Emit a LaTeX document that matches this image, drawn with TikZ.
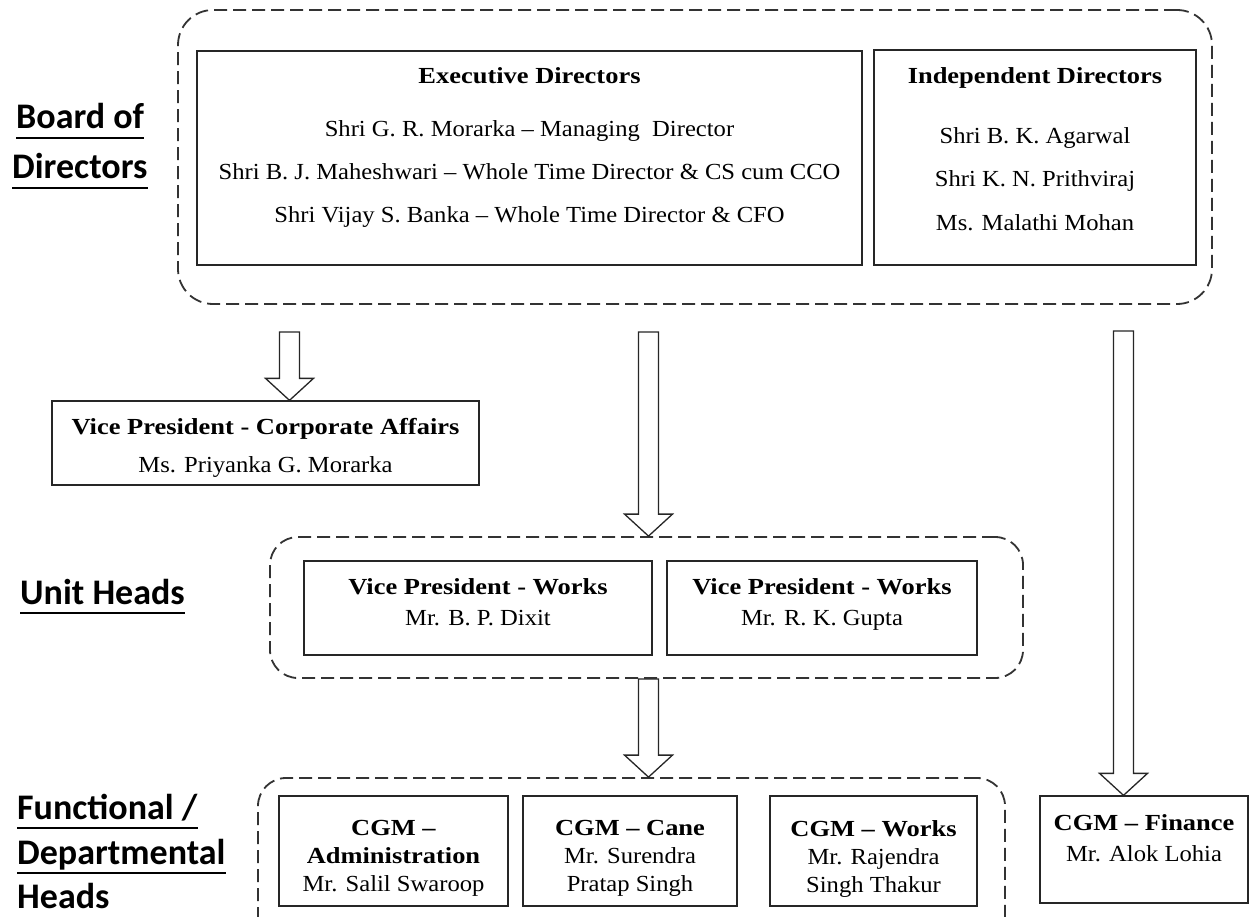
\documentclass[tikz,border=0pt]{standalone}
\usepackage{fontspec}
\setmainfont{Liberation Serif}[FakeStretch=1.07,BoldFeatures={FakeStretch=1.15}]
\newfontfamily\headfont{Carlito}
\usetikzlibrary{positioning,calc}

\tikzset{
  grp/.style={draw=black!80,line width=1.8pt,dash pattern=on 13pt off 6pt,rounded corners=#1},
  grp/.default=28pt,
  post/.style={draw=black!85,line width=1.3pt},
  txt/.style={align=center,inner sep=0pt,font=\fontsize{23}{28}\selectfont},
  lvl/.style={anchor=base west,inner sep=0pt,font=\headfont\bfseries\fontsize{36}{40}\selectfont},
  ul/.style={line width=2.2pt},
  blk/.style={draw=black!85,line width=1.3pt,fill=white,line join=miter},
}

% hollow block arrow: #1 top of shaft, #2 edge that the tip touches
\newcommand\bigdown[2]{%
  \coordinate (tip) at (#1 |- #2);
  \draw[blk] ($(#1)+(-10,0)$) -- ($(tip)+(-10,-22)$) -- ($(tip)+(-24,-22)$) -- (tip)
    -- ($(tip)+(24,-22)$) -- ($(tip)+(10,-22)$) -- ($(#1)+(10,0)$) -- cycle;}

\begin{document}
\begin{tikzpicture}[x=1pt,y=-1pt]
  \clip (0,0) rectangle (1249,917);
  \fill[white] (0,0) rectangle (1249,917);

  % left level labels
  \node[lvl] (bd1) at (16,129) {Board of};
  \node[lvl] (bd2) at (12,179) {Directors};
  \node[lvl] (uh) at (20,604) {Unit Heads};
  \node[lvl] (fd1) at (17,819) {Functional /};
  \node[lvl] (fd2) at (17,864) {Departmental};
  \node[lvl] (fd3) at (17,908) {Heads};
  \foreach \n in {bd1,bd2,uh,fd1,fd2}
    \draw[ul] ([yshift=-9pt]\n.base west) -- ([yshift=-9pt]\n.base east);

  % board of directors
  \node[grp=35pt,minimum width=1034pt,minimum height=294pt] (board) at (695,157) {};
  \node[post,minimum width=665pt,minimum height=214pt] (exec) at (529.5,158) {};
  \node[post,minimum width=322pt,minimum height=215pt] (indep) at (1035,157.5) {};
  \node[txt,below=17pt of exec.north] (exectxt)
    {\textbf{Executive Directors}\\[24.5pt]
     Shri G. R. Morarka -- Managing\ \ Director\\[15pt]
     Shri B. J. Maheshwari -- Whole Time Director \& CS cum CCO\\[15pt]
     Shri Vijay S. Banka -- Whole Time Director \& CFO};
  \node[txt,below=18pt of indep.north] (indeptxt)
    {\textbf{Independent Directors}\\[32pt]
     Shri B. K. Agarwal\\[15pt]
     Shri K. N. Prithviraj\\[16pt]
     Ms. Malathi Mohan};

  % corporate affairs
  \node[post,minimum width=427pt,minimum height=84pt] (vpc) at (265.5,443) {};
  \node[txt,below=18pt of vpc.north] (vpctxt)
    {\textbf{Vice President - Corporate Affairs}\\[10pt]
     Ms. Priyanka G. Morarka};

  % unit heads
  \node[grp,minimum width=753pt,minimum height=141pt] (unit) at (646.5,607.5) {};
  \node[post,minimum width=348pt,minimum height=94pt] (vpw1) at (478,608) {};
  \node[post,minimum width=310pt,minimum height=94pt] (vpw2) at (822,608) {};
  \node[txt,below=18pt of vpw1.north] (vpw1txt) {\textbf{Vice President - Works}\\[3pt] Mr. B. P. Dixit};
  \node[txt,below=18pt of vpw2.north] (vpw2txt) {\textbf{Vice President - Works}\\[3pt] Mr. R. K. Gupta};

  % functional / departmental heads
  \node[grp,minimum width=747pt,minimum height=172pt] (func) at (631.5,864) {};
  \node[post,minimum width=229pt,minimum height=110pt] (adm) at (393.5,851) {};
  \node[post,minimum width=214pt,minimum height=110pt] (cane) at (630,851) {};
  \node[post,minimum width=207pt,minimum height=110pt] (works) at (873.5,851) {};
  \node[post,minimum width=208pt,minimum height=107pt] (fin) at (1144,849.5) {};
  \node[txt,below=25pt of adm.north] (admtxt) {\textbf{CGM --}\\ \textbf{Administration}\\ Mr. Salil Swaroop};
  \node[txt,below=25pt of cane.north] (canetxt) {\textbf{CGM -- Cane}\\ Mr. Surendra\\ Pratap Singh};
  \node[txt,below=25pt of works.north] (workstxt) {\textbf{CGM -- Works}\\ Mr. Rajendra\\ Singh Thakur};
  \node[txt,below=19pt of fin.north] (fintxt) {\textbf{CGM -- Finance}\\[3pt] Mr. Alok Lohia};

  % arrows
  \coordinate (a1top) at (289.5,332);
  \coordinate (a2top) at (648.5,332);
  \coordinate (a3top) at (1123.5,331);
  \coordinate (a4top) at (a2top |- unit.south);
  \bigdown{a1top}{vpc.north}
  \bigdown{a2top}{unit.north}
  \bigdown{a3top}{fin.north}
  \bigdown{a4top}{func.north}
\end{tikzpicture}
\end{document}
